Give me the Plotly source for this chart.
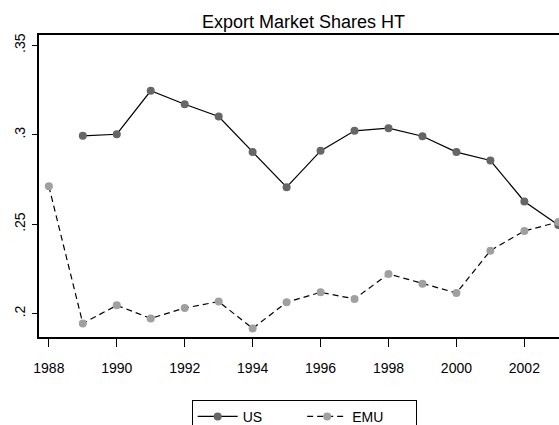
import plotly.graph_objects as go

years = list(range(1988, 2004))
us = [None, 0.2994, 0.3003, 0.3246, 0.3171, 0.3102, 0.2903, 0.2707, 0.2910,
      0.3022, 0.3037, 0.2992, 0.2903, 0.2856, 0.2627, 0.2495]
emu = [0.2712, 0.1945, 0.2046, 0.1973, 0.2031, 0.2067, 0.1917, 0.2063, 0.2119,
       0.2082, 0.2222, 0.2167, 0.2115, 0.2352, 0.2462, 0.2512]

x_ticks = list(range(1988, 2004, 2))
y_ticks = [0.2, 0.25, 0.3, 0.35]
y_ticktext = [".2", ".25", ".3", ".35"]

font = "Liberation Sans, Arial, sans-serif"
pad = "\u00a0"

fig = go.Figure(
    [
        go.Scatter(
            x=years,
            y=us,
            name="US" + pad * 9,
            mode="lines+markers",
            line=dict(color="black", width=1.2),
            marker=dict(color="#666666", size=8),
            connectgaps=False,
        ),
        go.Scatter(
            x=years,
            y=emu,
            name="EMU" + pad * 7,
            mode="lines+markers",
            line=dict(color="black", width=1.2, dash="6px,4px"),
            marker=dict(color="#a0a0a0", size=8),
        ),
    ]
)

fig.update_layout(
    width=559,
    height=425,
    margin=dict(l=39, r=0, t=35, b=88, autoexpand=False),
    paper_bgcolor="white",
    plot_bgcolor="white",
    font=dict(family=font, size=14, color="black"),
    title=dict(
        text="Export Market Shares HT",
        font=dict(size=18, color="black"),
        x=0.543,
        xanchor="center",
        y=0.948,
        yanchor="middle",
    ),
    showlegend=True,
    legend=dict(
        orientation="h",
        x=0.51,
        xanchor="center",
        y=-0.208,
        yanchor="top",
        bordercolor="black",
        borderwidth=1,
        font=dict(size=14),
        itemwidth=40,
    ),
)

fig.update_xaxes(
    range=[1987.71, 2003.02],
    tickvals=x_ticks,
    ticks="outside",
    ticklen=8,
    tickcolor="black",
    ticklabelstandoff=9,
    showline=True,
    linecolor="black",
    linewidth=1.5,
    mirror=True,
    showgrid=False,
    zeroline=False,
    tickfont=dict(size=14),
)
fig.update_yaxes(
    range=[0.1869, 0.3558],
    tickvals=y_ticks,
    ticktext=y_ticktext,
    tickangle=-90,
    ticks="outside",
    ticklen=5,
    tickcolor="black",
    ticklabelstandoff=2,
    showline=True,
    linecolor="black",
    linewidth=1.5,
    showgrid=False,
    zeroline=False,
    tickfont=dict(size=14),
)

# the page's default body margin would shift the figure by 8px
fig.write_html(
    "out.html",
    config={"displayModeBar": False},
    post_script="document.body.style.margin='0';document.body.style.overflow='hidden';",
)
